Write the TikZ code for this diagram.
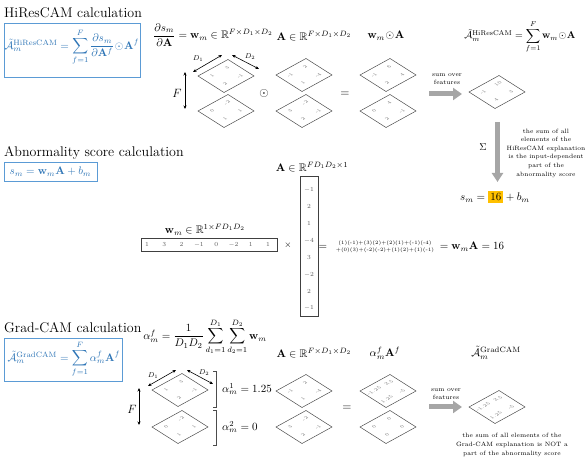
\RequirePackage{fix-cm}
\documentclass[tikz,border=0pt]{standalone}
\usepackage{amsmath,amssymb}
\usetikzlibrary{arrows.meta}
\definecolor{eqblue}{RGB}{46,117,182}
\definecolor{boxblue}{RGB}{91,155,213}
\definecolor{arrgray}{RGB}{166,166,166}
\definecolor{hlyellow}{RGB}{255,192,0}
\newcommand{\fsz}[1]{\fontsize{#1}{#1}\selectfont}
\newcommand{\bA}{\mathbf{A}}
\newcommand{\bw}{\mathbf{w}}
\newcommand{\hp}{\mkern1mu{\odot}\mkern1mu}
\tikzset{
  headtxt/.style={anchor=base west, font=\fsz{14}, inner sep=0pt},
  eqframe/.style={draw=boxblue, line width=0.8pt, inner sep=0pt, anchor=north west},
  eqtxt/.style={text=eqblue, font=\fsz{11}, inner sep=0pt},
  mathlab/.style={font=\fsz{11}, inner sep=0pt},
  diaedge/.style={draw=black!70, line width=0.5pt},
  cellnum/.style={font=\fsz{5}, text=black!55, inner sep=0pt, cm={0.877,0.482,-0.844,0.536,(0,0)}},
  notetxt/.style={font=\fontsize{6.2}{8.6}\selectfont, align=center, inner sep=0pt},
  dimarrow/.style={{Stealth[length=3.5pt,width=3pt]}-{Stealth[length=3.5pt,width=3pt]}, line width=0.6pt},
  vecbox/.style={draw=black!75, line width=0.6pt, inner sep=0pt, anchor=north west},
  vecnum/.style={font=\fsz{6.2}, text=black!65, inner sep=0pt},
  grayarrow/.style={arrgray, line width=5pt, -{Triangle[length=9pt,width=12pt]}},
}
% name, x, y, left, top, bottom, right
\newcommand{\featdiamond}[7]{%
  \coordinate (#1) at (#2,#3);
  \coordinate (#1-l) at (#2-28,#3);
  \coordinate (#1-t) at (#2+2,#3-16.5);
  \coordinate (#1-r) at (#2+28,#3);
  \coordinate (#1-b) at (#2-2,#3+16.5);
  \draw[diaedge] (#1-l) -- (#1-t) -- (#1-r) -- (#1-b) -- cycle;
  \node[cellnum] (#1-n1) at (#2-14,#3) {#4};
  \node[cellnum] (#1-n2) at (#2+1,#3-8.25) {#5};
  \node[cellnum] (#1-n3) at (#2-1,#3+8.25) {#6};
  \node[cellnum] (#1-n4) at (#2+14,#3) {#7};
}
\begin{document}
\begin{tikzpicture}[x=1pt,y=-1pt]
\useasboundingbox (0,0) rectangle (587,462);

% ================= HiResCAM =================
\node[headtxt] (h1) at (4,18) {HiResCAM calculation};
\node[eqframe, minimum width=136pt, minimum height=54pt] (box1) at (4,23) {};
\node[eqtxt] (eq1) at (72,47) {$\tilde{\mathcal{A}}_m^{\mathrm{HiResCAM}}=\displaystyle\sum_{f=1}^{F}\frac{\partial s_m}{\partial\bA^f}\hp\bA^f$};

\node[mathlab] (t1) at (213,35) {$\dfrac{\partial s_m}{\partial\bA}=\bw_m\in\mathbb{R}^{F\times D_1\times D_2}$};
\node[mathlab] (t2) at (314,36) {$\bA\in\mathbb{R}^{F\times D_1\times D_2}$};
\node[mathlab] (t3) at (386,36) {$\bw_m\hp\bA$};
\node[mathlab, font=\fsz{10}] (t4) at (520,37) {$\tilde{\mathcal{A}}_m^{\mathrm{HiResCAM}}=\displaystyle\sum_{f=1}^{F}\bw_m\hp\bA$};

\featdiamond{wa}{226}{76}{1}{3}{2}{-1}
\featdiamond{wb}{226}{111}{0}{-2}{1}{1}
\featdiamond{aa}{304}{75}{-1}{2}{1}{-4}
\featdiamond{ab}{304}{111}{3}{-2}{2}{-1}
\featdiamond{pa}{388}{75}{-1}{6}{2}{4}
\featdiamond{pb}{388}{111}{0}{4}{2}{-1}
\featdiamond{hr}{497}{92}{-1}{10}{4}{3}

% dimension marks
\coordinate (d1s) at (193,72); \coordinate (d1e) at (222,55);
\coordinate (d2s) at (232,55); \coordinate (d2e) at (259,69);
\coordinate (fs) at (185,72); \coordinate (fe) at (185,109);
\draw[dimarrow] (d1s) -- (d1e);
\draw[dimarrow] (d2s) -- (d2e);
\draw[dimarrow] (fs) -- (fe);
\node[font=\fsz{7}, inner sep=0pt] (d1l) at (198,59) {$D_1$};
\node[font=\fsz{7}, inner sep=0pt] (d2l) at (250,57) {$D_2$};
\node[font=\fsz{12}, inner sep=0pt] (fl) at (177,93) {$F$};

\node[font=\fsz{12}, inner sep=0pt] (odot1) at (264,94) {$\odot$};
\node[font=\fsz{12}, inner sep=0pt] (eqs1) at (345,94) {$=$};

\node[notetxt] (sof1) at (447,79) {sum over\\features};
\coordinate (ha1s) at (429,94); \coordinate (ha1e) at (462,94);
\draw[grayarrow] (ha1s) -- (ha1e);

\coordinate (va1s) at (497.5,122); \coordinate (va1e) at (497.5,182);
\draw[grayarrow, -{Triangle[length=9pt,width=11pt]}] (va1s) -- (va1e);
\node[font=\fsz{10}, inner sep=0pt] (sig) at (483,147) {$\Sigma$};
\node[notetxt] (note1) at (546,153) {the sum of all\\elements of the\\HiResCAM explanation\\is the input-dependent\\part of the\\abnormality score};

\node[mathlab] (score) at (495,197) {\fboxsep=2pt$s_m=\colorbox{hlyellow}{$16$}+b_m$};

% ================= Abnormality score =================
\node[headtxt] (h2) at (4,157) {Abnormality score calculation};
\node[eqframe, minimum width=93pt, minimum height=19pt] (box2) at (4,162) {};
\node[eqtxt] (eq2) at (50.5,171.5) {$s_m=\bw_m\bA+b_m$};

\node[mathlab] (colvlab) at (312,167) {$\bA\in\mathbb{R}^{FD_1D_2\times 1}$};
\node[vecbox, minimum width=18pt, minimum height=140pt] (colv) at (300,176) {};
\foreach \v [count=\i from 0] in {-1,2,1,-4,3,-2,2,-1} {
  \node[vecnum] (cv\i) at (309,190+16.9*\i) {$\v$};
}

\node[mathlab] (rowvlab) at (205,230) {$\bw_m\in\mathbb{R}^{1\times FD_1D_2}$};
\node[vecbox, minimum width=136pt, minimum height=13pt] (rowv) at (141,238) {};
\foreach \v [count=\i from 0] in {1,3,2,-1,0,-2,1,1} {
  \node[vecnum] (rv\i) at (147+17.3*\i,244.5) {$\v$};
}
\node[font=\fsz{9}, inner sep=0pt] (times) at (288,245) {$\times$};
\node[font=\fsz{11}, inner sep=0pt] (eqs2) at (323,247) {$=$};
\node[font=\fontsize{5}{7}\selectfont, align=center, inner sep=0pt] (prod) at (385,246.5) {(1)(-1)+(3)(2)+(2)(1)+(-1)(-4)\\+(0)(3)+(-2)(-2)+(1)(2)+(1)(-1)};
\node[mathlab] (res) at (472,247) {$=\bw_m\bA=16$};

% ================= Grad-CAM =================
\node[headtxt] (h3) at (4,333) {Grad-CAM calculation};
\node[eqframe, minimum width=118pt, minimum height=43pt] (box3) at (4,338) {};
\node[eqtxt] (eq3) at (64,359) {$\tilde{\mathcal{A}}_m^{\mathrm{GradCAM}}=\displaystyle\sum_{f=1}^{F}\alpha_m^f\bA^f$};

\node[mathlab] (alph) at (205,337) {$\alpha_m^f=\dfrac{1}{D_1D_2}\displaystyle\sum_{d_1=1}^{D_1}\sum_{d_2=1}^{D_2}\bw_m$};
\node[mathlab] (t5) at (314,353) {$\bA\in\mathbb{R}^{F\times D_1\times D_2}$};
\node[mathlab] (t6) at (385,353) {$\alpha_m^f\bA^f$};
\node[mathlab] (t7) at (496,353) {$\tilde{\mathcal{A}}_m^{\mathrm{GradCAM}}$};

\featdiamond{gwa}{180}{390}{1}{3}{2}{-1}
\featdiamond{gwb}{180}{427}{0}{-2}{1}{1}
\featdiamond{gaa}{304}{391}{-1}{2}{1}{-4}
\featdiamond{gab}{304}{427}{3}{-2}{2}{-1}
\featdiamond{gpa}{388}{391}{-1.25}{2.5}{1.25}{-5}
\featdiamond{gpb}{388}{427}{0}{0}{0}{0}
\featdiamond{gc}{497}{407}{-1.25}{2.5}{1.25}{-5}

\coordinate (gd1s) at (148,386); \coordinate (gd1e) at (176,370);
\coordinate (gd2s) at (187,370); \coordinate (gd2e) at (213,384);
\coordinate (gfs) at (139,388); \coordinate (gfe) at (139,425);
\draw[dimarrow] (gd1s) -- (gd1e);
\draw[dimarrow] (gd2s) -- (gd2e);
\draw[dimarrow] (gfs) -- (gfe);
\node[font=\fsz{7}, inner sep=0pt] (gd1l) at (153,376) {$D_1$};
\node[font=\fsz{7}, inner sep=0pt] (gd2l) at (204,373) {$D_2$};
\node[font=\fsz{12}, inner sep=0pt] (gfl) at (132,409) {$F$};

\coordinate (br1a) at (213,371); \coordinate (br1b) at (216.5,371);
\coordinate (br1c) at (216.5,407); \coordinate (br1d) at (213,407);
\draw[black!70, line width=0.6pt] (br1a) -- (br1b) -- (br1c) -- (br1d);
\coordinate (br2a) at (213,410); \coordinate (br2b) at (216.5,410);
\coordinate (br2c) at (216.5,445); \coordinate (br2d) at (213,445);
\draw[black!70, line width=0.6pt] (br2a) -- (br2b) -- (br2c) -- (br2d);
\node[mathlab, anchor=west] (al1) at (222,389) {$\alpha_m^1=1.25$};
\node[mathlab, anchor=west] (al2) at (222,427) {$\alpha_m^2=0$};

\node[font=\fsz{12}, inner sep=0pt] (eqs3) at (347,408) {$=$};

\node[notetxt] (sof2) at (446,394) {sum over\\features};
\coordinate (ha2s) at (429,407); \coordinate (ha2e) at (462,407);
\draw[grayarrow] (ha2s) -- (ha2e);

\node[notetxt] (note2) at (512,445) {the sum of all elements of the\\Grad-CAM explanation is NOT a\\part of the abnormality score};
\end{tikzpicture}
\end{document}
